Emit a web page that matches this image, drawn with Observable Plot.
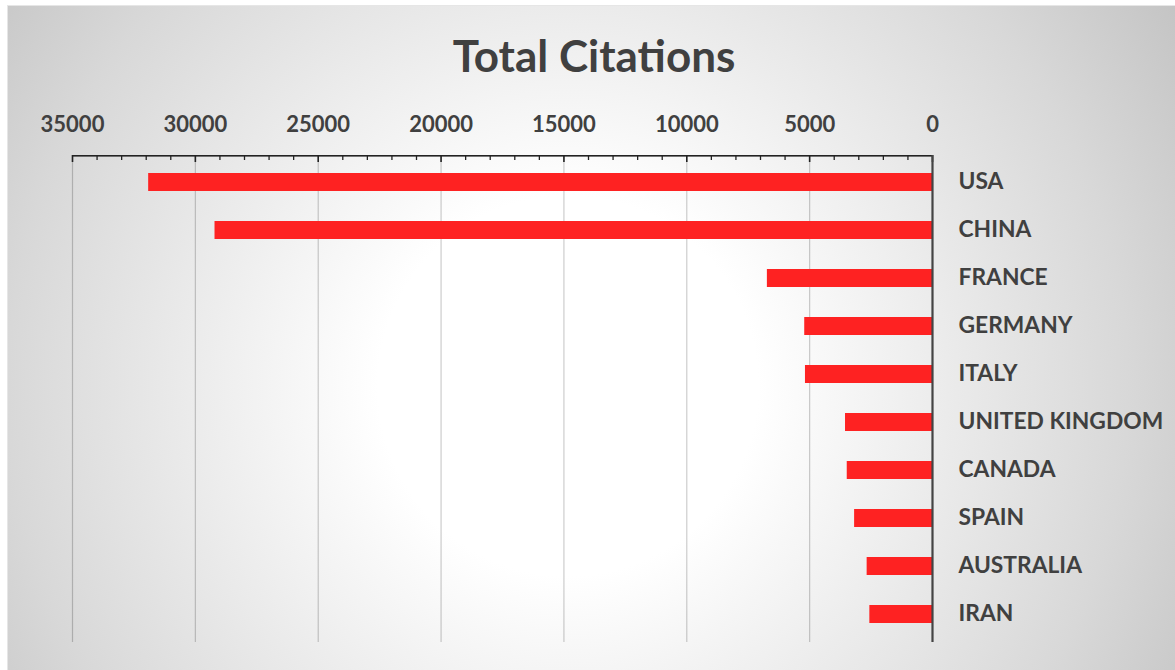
<!DOCTYPE html>
<html>
<head>
<meta charset="utf-8">
<script src="https://cdn.jsdelivr.net/npm/d3@7"></script>
<script src="https://cdn.jsdelivr.net/npm/@observablehq/plot@0.6"></script>
<style>
  html, body { margin: 0; padding: 0; background: #ffffff; width: 1175px; height: 670px; overflow: hidden; }
  #bg {
    position: absolute; left: 7px; top: 5px; width: 1170px; height: 665px;
    background: radial-gradient(circle at 560px 380px, #ffffff 0px, #ffffff 190px, #d8d8d8 560px, #c4c4c4 720px);
    border-top: 1px solid #e6e6e6; border-left: 1px solid #e6e6e6;
  }
  #title {
    position: absolute; left: 0; top: 29px; width: 1188px; text-align: center;
    font-family: Lato, sans-serif; font-weight: 700; font-size: 44px; color: #404040;
  }
  #chart { position: absolute; left: 0; top: 0; }
</style>
</head>
<body>
<div id="bg"></div>
<div id="title">Total Citations</div>
<div id="chart"></div>
<script>
const countries = ["USA", "CHINA", "FRANCE", "GERMANY", "ITALY", "UNITED KINGDOM", "CANADA", "SPAIN", "AUSTRALIA", "IRAN"];
const citations = [31900, 29200, 6720, 5200, 5170, 3540, 3470, 3170, 2660, 2550];
const majorTicks = [0, 5000, 10000, 15000, 20000, 25000, 30000, 35000];
const minorTicks = d3.range(0, 35001, 1000).filter(d => d % 5000 !== 0);

const data = countries.map((c, i) => ({country: c, value: citations[i]}));

const W = 1175, H = 670;
const mTop = 155, mBottom = 28, mLeft = 72, mRight = 243;
const frameH = H - mTop - mBottom;
const textColor = "#404040";

const chart = Plot.plot({
  width: W,
  height: H,
  marginTop: mTop,
  marginBottom: mBottom,
  marginLeft: mLeft,
  marginRight: mRight,
  style: {background: "transparent", fontFamily: "Lato, sans-serif", overflow: "visible"},
  x: {domain: [35000, 0], axis: null},
  y: {domain: countries, paddingInner: 0.62, paddingOuter: 0.31, axis: null},
  marks: [
    Plot.ruleX(majorTicks.filter(d => d !== 0), {x: d => d, stroke: "#000", strokeOpacity: 0.2, strokeWidth: 1.2}),
    Plot.barX(data, {x: "value", y: "country", fill: "#fe2222"}),
    Plot.ruleX(majorTicks, {x: d => d, stroke: "#222", strokeWidth: 1.6, insetBottom: frameH - 7}),
    Plot.ruleX(minorTicks, {x: d => d, stroke: "#222", strokeWidth: 1.3, insetBottom: frameH - 5}),
    Plot.rect([[35000, 0]], {x1: d => d[0], x2: d => d[1], fill: "#222", insetBottom: frameH - 1.6}),
    Plot.ruleX([0], {x: d => d, stroke: "#444", strokeWidth: 2.2}),
    Plot.text(majorTicks, {x: d => d, text: d => String(d), frameAnchor: "top", dy: -39,
      fill: textColor, fontSize: 22, fontWeight: 700}),
    Plot.axisY({anchor: "right", label: null, tickSize: 0, tickPadding: 26, fontSize: 22.8, fontWeight: 700,
      color: textColor, textAnchor: "start", dy: -1})
  ]
});
document.getElementById("chart").appendChild(chart);
</script>
</body>
</html>
